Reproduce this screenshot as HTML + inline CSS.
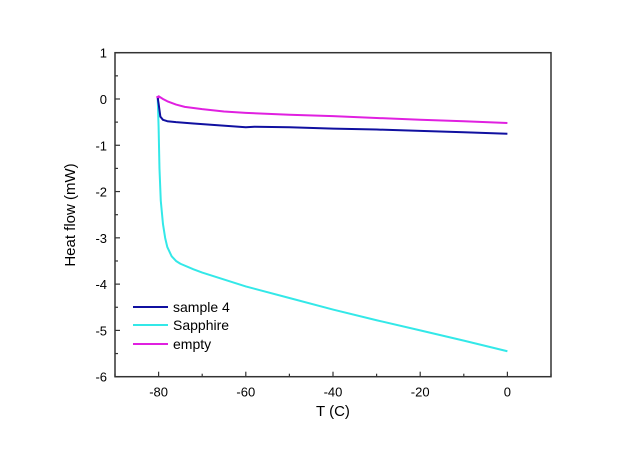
<!DOCTYPE html>
<html><head><meta charset="utf-8"><style>
html,body{margin:0;padding:0;background:#fff;}
svg{display:block;font-family:"Liberation Sans",Arial,sans-serif;}
</style></head><body>
<svg id="chart" width="640" height="452"></svg>
<script>
const xTicks=[-80,-60,-40,-20,0];
const yTicks=[1,0,-1,-2,-3,-4,-5,-6];
const sampleT=[-80.2,-80,-79.6,-79,-78,-76,-72,-66,-60,-58,-50,-40,-30,-20,-10,0];
const sampleV=[0.02,-0.1,-0.38,-0.45,-0.48,-0.5,-0.53,-0.57,-0.61,-0.6,-0.61,-0.64,-0.66,-0.69,-0.72,-0.75];
const sapphireT=[-80.2,-80,-79.8,-79.5,-79,-78.5,-78,-77,-76,-75,-72,-70,-60,-50,-40,-30,-20,-10,0];
const sapphireV=[0,-0.6,-1.5,-2.2,-2.7,-3.0,-3.2,-3.4,-3.5,-3.56,-3.68,-3.75,-4.05,-4.3,-4.55,-4.78,-5.0,-5.22,-5.45];
const emptyT=[-80.4,-80.1,-80,-79,-78,-76,-74,-70,-65,-60,-50,-40,-30,-20,-10,0];
const emptyV=[0.06,0.0,0.06,0.0,-0.05,-0.12,-0.17,-0.22,-0.27,-0.3,-0.34,-0.37,-0.41,-0.45,-0.48,-0.52];
const L=115,R=551,T=52.7,B=376.7;
const xs=v=>L+(v+90)/100*(R-L);
const ys=v=>T+(1-v)/7*(B-T);
const svg=document.getElementById('chart');
const NS='http://www.w3.org/2000/svg';
function mk(tag,attrs,parent){const e=document.createElementNS(NS,tag);for(const k in attrs)e.setAttribute(k,attrs[k]);(parent||svg).appendChild(e);return e;}
const frame=mk('rect',{x:L,y:T,width:R-L,height:B-T,fill:'none',stroke:'#333','stroke-width':1.5});


for(let v=-90;v<=10;v+=10){const major=xTicks.includes(v);
 const t=mk('line',{x1:xs(v),x2:xs(v),y1:B,y2:B-(major?5:3),stroke:'#333','stroke-width':1.2});
 
 }
xTicks.forEach(v=>{const t=mk('text',{x:xs(v),y:B+20,'font-size':13,'text-anchor':'middle',fill:'#000'});t.textContent=v;
 
 });
for(let v=-6;v<=1;v+=0.5){const major=Number.isInteger(v);
 const t=mk('line',{x1:L,x2:L+(major?5:3),y1:ys(v),y2:ys(v),stroke:'#333','stroke-width':1.2});
 
 }
yTicks.forEach(v=>{const t=mk('text',{x:L-8,y:ys(v)+5,'font-size':13,'text-anchor':'end',fill:'#000'});t.textContent=v;
 
 });
const xt=mk('text',{x:333,y:416,'font-size':15,'text-anchor':'middle'});xt.textContent='T (C)';


const yt=mk('text',{x:0,y:0,'font-size':15,'text-anchor':'middle',transform:'translate(75,215) rotate(-90)'});yt.textContent='Heat flow (mW)';


function series(tArr,vArr,color,name){
 const d=tArr.map((t,i)=>(i?'L':'M')+xs(t).toFixed(2)+','+ys(vArr[i]).toFixed(2)).join('');
 const p=mk('path',{d:d,fill:'none',stroke:color,'stroke-width':2,'stroke-linejoin':'round'});
 
 }
series(sapphireT,sapphireV,'#33e8e8','sapphire-line');
series(emptyT,emptyV,'#e020e0','empty-line');
series(sampleT,sampleV,'#1010a0','sample-4-line');
const leg=[['sample 4','#1010a0',307],['Sapphire','#33e8e8',325],['empty','#e020e0',344]];
leg.forEach(([n,c,y])=>{const l=mk('line',{x1:133,x2:168,y1:y,y2:y,stroke:c,'stroke-width':2});
 
 
 const t=mk('text',{x:173,y:y+5,'font-size':14});t.textContent=n;
 
 });
</script>
</body></html>
